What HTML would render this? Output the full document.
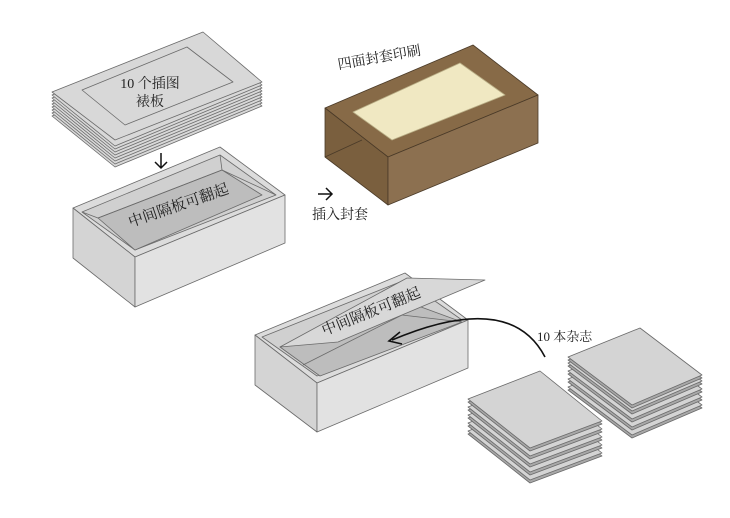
<!DOCTYPE html>
<html><head><meta charset="utf-8"><style>
html,body{margin:0;padding:0;background:#fff;}
svg{display:block}
text{font-family:"Liberation Serif","Noto Serif CJK SC","Noto Sans CJK SC",serif;fill:#222}
</style></head><body>
<svg width="730" height="518" viewBox="0 0 730 518" xmlns="http://www.w3.org/2000/svg">
<g stroke="#6a6a6a" stroke-width="0.8" stroke-linejoin="round">
<!-- top board stack -->
<polygon points="52,116 203,56 262,106 115,167" fill="#d8d8d8"/>
<polygon points="52,113 203,53 262,103 115,164" fill="#d8d8d8"/>
<polygon points="52,110 203,50 262,100 115,161" fill="#d8d8d8"/>
<polygon points="52,107 203,47 262,97 115,158" fill="#d8d8d8"/>
<polygon points="52,104 203,44 262,94 115,155" fill="#d8d8d8"/>
<polygon points="52,101 203,41 262,91 115,152" fill="#d8d8d8"/>
<polygon points="52,98 203,38 262,88 115,149" fill="#d8d8d8"/>
<polygon points="52,95 203,35 262,85 115,146" fill="#d8d8d8"/>
<polygon points="52,92 203,32 262,82 115,140" fill="#d8d8d8"/>
<polygon points="82,90 187,47 233,82 125,125" fill="#d8d8d8"/>

<!-- box 1 -->
<polygon points="73,208 220,147 285,195 135,257" fill="#dcdcdc"/>
<polygon points="82,212 220,155 276,195 135,250" fill="#d0d0d0"/>
<polygon points="98,218 222,170 262,195 135,250" fill="#bdbdbd"/>
<polyline points="82,212 98,218 222,170 220,155" fill="none"/>
<line x1="222" y1="170" x2="276" y2="195"/>
<polygon points="73,208 135,257 135,307 73,258" fill="#d4d4d4"/>
<polygon points="135,257 285,195 285,243 135,307" fill="#e2e2e2"/>

<!-- brown box -->
<polygon points="325,108 473,45 538,95 388,157" fill="#876a47" stroke="#4a3a28"/>
<polygon points="353,112 460,63 505,95 392,140" fill="#f0e8c2" stroke="#b9ae86"/>
<polygon points="325,108 388,157 388,205 325,157" fill="#7a5f3e" stroke="#4a3a28"/>
<polygon points="388,157 538,95 538,143 388,205" fill="#8c7050" stroke="#4a3a28"/>
<line x1="325" y1="157" x2="362" y2="140" stroke="#4a3a28"/>

<!-- bottom box -->
<polygon points="255,335 405,273 468,320 317,383" fill="#dcdcdc"/>
<polygon points="262,337 405,280 462,320 317,376" fill="#d0d0d0"/>
<polygon points="280,347 402,300 462,322 320,376" fill="#bdbdbd"/>
<line x1="303" y1="365" x2="402" y2="315"/>
<line x1="402" y1="315" x2="462" y2="322"/>
<polygon points="280,347 407,278 485,280 338,342" fill="#d8d8d8"/>
<polygon points="255,335 317,383 317,432 255,385" fill="#d4d4d4"/>
<polygon points="317,383 468,320 468,368 317,432" fill="#e2e2e2"/>

<!-- magazine stacks: right -->
<g fill="#d4d4d4">
<polygon points="568,390 640,361 702,408 632,438" fill="#a8a8a8"/>
<polygon points="568,387 640,358 702,405 632,435"/>
<polygon points="568,382 640,353 702,400 632,430" fill="#a8a8a8"/>
<polygon points="568,379 640,350 702,397 632,427"/>
<polygon points="568,374 640,345 702,392 632,422" fill="#a8a8a8"/>
<polygon points="568,371 640,342 702,389 632,419"/>
<polygon points="568,366 640,337 702,384 632,414" fill="#a8a8a8"/>
<polygon points="568,363 640,334 702,381 632,411"/>
<polygon points="568,360 640,331 702,378 632,408" fill="#a8a8a8"/>
<polygon points="568,357 640,328 702,375 632,405"/>
<!-- left -->
<polygon points="468,434 540,406 602,456 530,483" fill="#a8a8a8"/>
<polygon points="468,431 540,403 602,453 530,480"/>
<polygon points="468,426 540,398 602,448 530,475" fill="#a8a8a8"/>
<polygon points="468,423 540,395 602,445 530,472"/>
<polygon points="468,418 540,390 602,440 530,467" fill="#a8a8a8"/>
<polygon points="468,415 540,387 602,437 530,464"/>
<polygon points="468,410 540,382 602,432 530,459" fill="#a8a8a8"/>
<polygon points="468,407 540,379 602,429 530,456"/>
<polygon points="468,402 540,374 602,424 530,451" fill="#a8a8a8"/>
<polygon points="468,399 540,371 602,421 530,448"/>
</g>
</g>

<!-- curved arrow -->
<path d="M545,357 Q510,290 392,340" fill="none" stroke="#111" stroke-width="1.6"/>
<path d="M400,332 L389,341 L402,344" fill="none" stroke="#111" stroke-width="1.6"/>

<!-- straight arrows -->
<g stroke="#111" stroke-width="1.5" fill="none">
<path d="M161,153 V168 M155,162 L161,168 L167,162"/>
<path d="M318,194 H332 M326,188 L332,194 L326,200"/>
</g>

<!-- labels -->
<text x="150" y="88" font-size="14" text-anchor="middle">10 个插图</text>
<text x="150" y="106" font-size="14" text-anchor="middle">裱板</text>
<text x="180" y="210" font-size="15" text-anchor="middle" transform="rotate(-19 180 210)">中间隔板可翻起</text>
<text x="380" y="62" font-size="14" text-anchor="middle" transform="rotate(-10 380 62)">四面封套印刷</text>
<text x="312" y="219" font-size="14">插入封套</text>
<text x="373" y="316" font-size="15" text-anchor="middle" transform="rotate(-22 373 316)">中间隔板可翻起</text>
<text x="537" y="341" font-size="13">10 本杂志</text>
</svg>
</body></html>
